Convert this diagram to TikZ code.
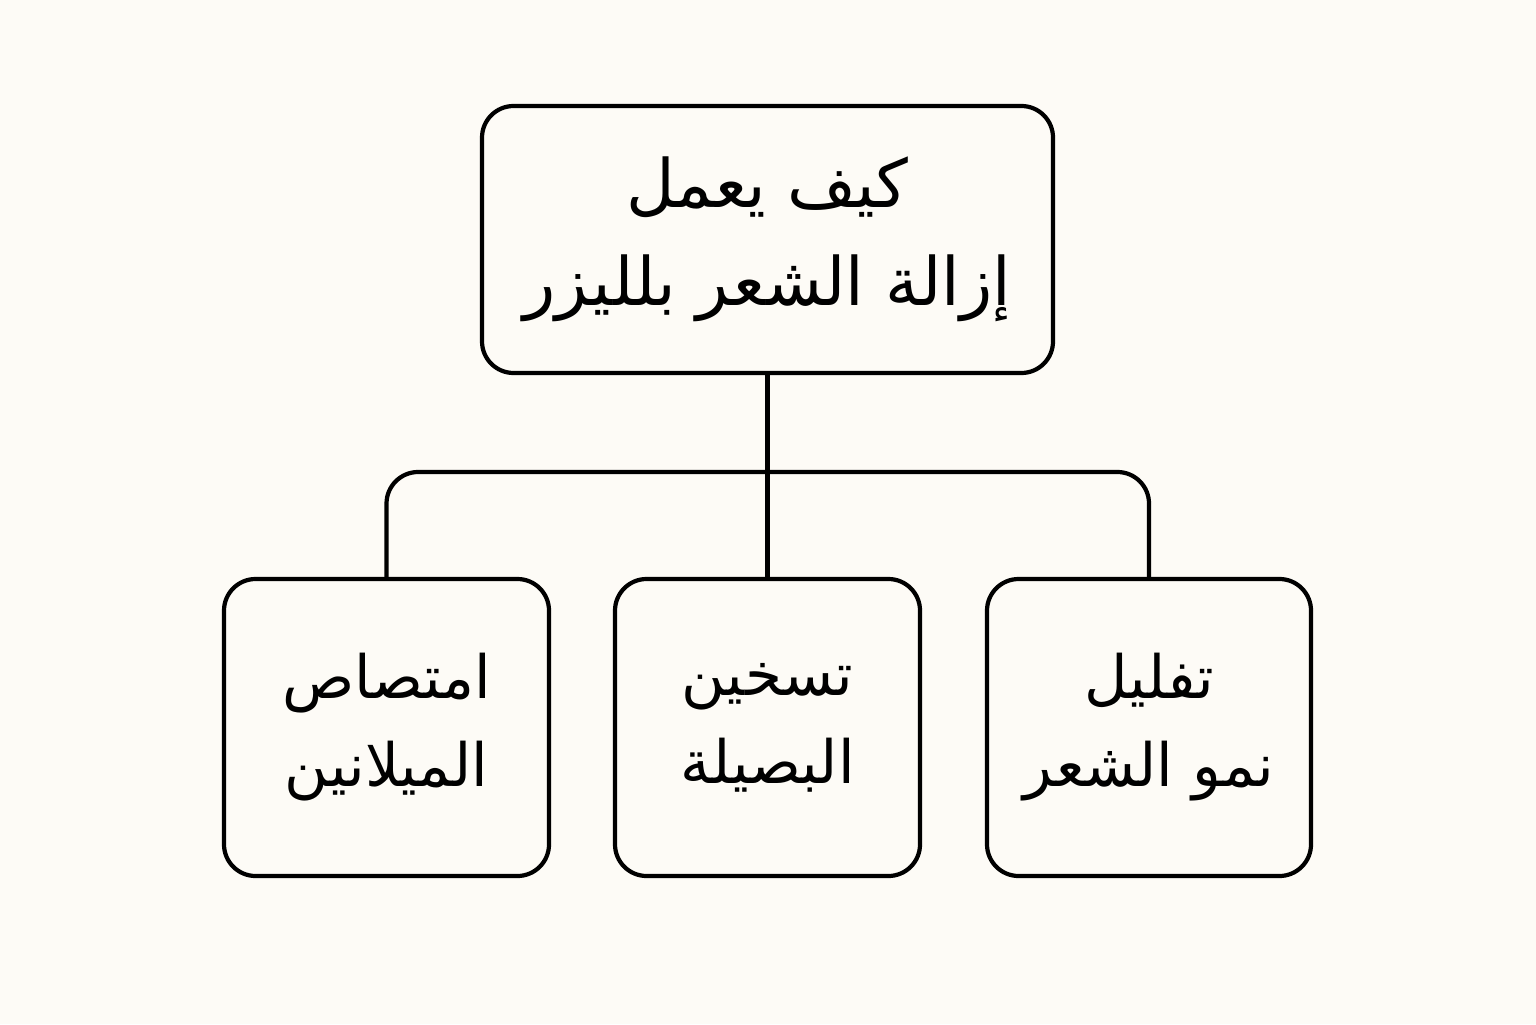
\documentclass[tikz,border=0pt]{standalone}
\usepackage{fontspec}
\newfontfamily\arabicfont[Script=Arabic]{DejaVu Sans}
\TeXXeTstate=1
\definecolor{paper}{HTML}{FDFBF6}
\tikzset{
  box/.style={draw, line width=1.2pt, rounded corners=9pt, align=center, inner sep=0pt},
  link/.style={line width=1.2pt, rounded corners=9pt}
}
\begin{document}
\begin{tikzpicture}
  \fill[paper] (0,0) rectangle (15.36,10.24);
  \useasboundingbox (0,0) rectangle (15.36,10.24);

  \node[box, minimum width=5.71cm, minimum height=2.67cm, font=\fontsize{19}{28}\selectfont\arabicfont] (top) at (7.675,7.845)
    {\beginR كيف يعمل\endR\\ \beginR إزالة الشعر بلليزر\endR};

  \node[box, minimum width=3.25cm, minimum height=2.97cm, font=\fontsize{17}{25}\selectfont\arabicfont] (melanin) at (3.865,2.965)
    {\beginR امتصاص\endR\\ \beginR الميلانين\endR};
  \node[box, minimum width=3.05cm, minimum height=2.97cm, font=\fontsize{17}{25}\selectfont\arabicfont] (heat) at (7.675,2.965)
    {\beginR تسخين\endR\\ \beginR البصيلة\endR};
  \node[box, minimum width=3.24cm, minimum height=2.97cm, font=\fontsize{17}{25}\selectfont\arabicfont] (growth) at (11.49,2.965)
    {\beginR تفليل\endR\\ \beginR نمو الشعر\endR};

  \coordinate (bar) at (7.675,5.52);
  \draw[link] (top.south) -- (heat.north);
  \draw[link] (melanin.north) |- (bar) -| (growth.north);
\end{tikzpicture}
\end{document}
